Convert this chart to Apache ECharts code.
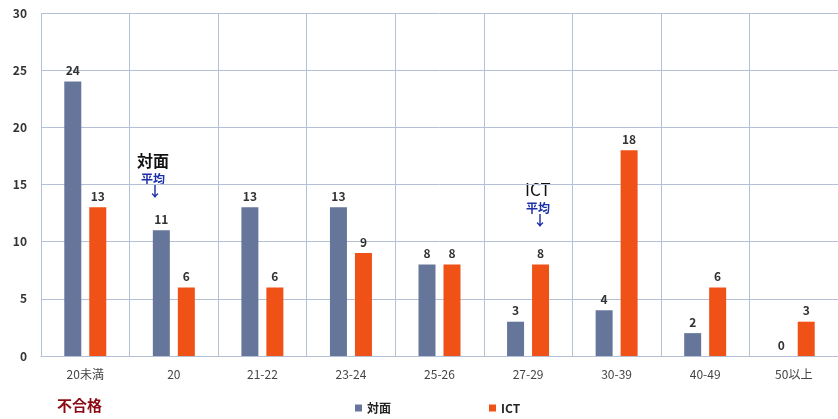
<!DOCTYPE html>
<html>
<head>
<meta charset="utf-8">
<script src="https://cdn.jsdelivr.net/npm/echarts@6/dist/echarts.min.js"></script>
<style>
  html, body { margin: 0; padding: 0; background: #fff; }
  #chart { width: 838px; height: 419px; }
</style>
</head>
<body>
<div id="chart"></div>
<script>
  // 年齢区分
  var categories = ['20未満', '20', '21-22', '23-24', '25-26', '27-29', '30-39', '40-49', '50以上'];
  // 対面 / ICT の人数
  var taimen = [24, 11, 13, 13, 8, 3, 4, 2, 0];
  var ict = [13, 6, 6, 9, 8, 8, 18, 6, 3];
  var yTicks = [0, 5, 10, 15, 20, 25, 30];

  var font = '"Noto Sans CJK JP", "Noto Sans", sans-serif';
  var chart = echarts.init(document.getElementById('chart'));

  var labelStyle = {
    show: true,
    position: 'top',
    distance: 5,
    color: '#333',
    fontSize: 12,
    fontWeight: 'bold',
    fontFamily: font
  };

  chart.setOption({
    backgroundColor: '#fff',
    animation: false,
    textStyle: { fontFamily: font },
    grid: { left: 41, width: 801, top: 13, bottom: 63 },
    legend: {
      bottom: 0,
      left: 350,
      itemWidth: 7,
      itemHeight: 7,
      itemGap: 98,
      icon: 'rect',
      textStyle: { color: '#222', fontSize: 12, fontWeight: 'bold', fontFamily: font },
      data: ['対面', 'ICT']
    },
    xAxis: {
      type: 'category',
      data: categories,
      axisTick: { show: false },
      axisLine: { lineStyle: { color: '#b3c0d6' } },
      axisLabel: { color: '#444', fontSize: 12, margin: 12, fontFamily: font },
      splitLine: { show: true, interval: 0, lineStyle: { color: '#b3c0d6', width: 1 } }
    },
    yAxis: {
      type: 'value',
      min: yTicks[0],
      max: yTicks[yTicks.length - 1],
      interval: 5,
      axisLine: { show: false },
      axisTick: { show: false },
      axisLabel: { color: '#333', fontSize: 12, fontWeight: 'bold', margin: 14, fontFamily: font },
      splitLine: { lineStyle: { color: '#b3c0d6', width: 1 } }
    },
    series: [
      {
        name: '対面',
        type: 'bar',
        data: taimen,
        barWidth: 17,
        barGap: '47%',
        itemStyle: { color: '#66769a' },
        label: labelStyle
      },
      {
        name: 'ICT',
        type: 'bar',
        data: ict,
        barWidth: 17,
        itemStyle: { color: '#ef5116' },
        label: labelStyle
      }
    ],
    graphic: [
      { type: 'text', left: 137, top: 153, style: { text: '対面', fill: '#111', font: 'bold 16px ' + font } },
      { type: 'text', left: 141, top: 173, style: { text: '平均', fill: '#1a2fa8', font: 'bold 12px ' + font } },
      { type: 'text', left: 148, top: 184, style: { text: '↓', fill: '#1a2fa8', font: 'bold 14px ' + font } },
      { type: 'text', left: 525, top: 181, style: { text: 'ICT', fill: '#111', font: '17px ' + font } },
      { type: 'text', left: 526, top: 202, style: { text: '平均', fill: '#1a2fa8', font: 'bold 12px ' + font } },
      { type: 'text', left: 533, top: 213, style: { text: '↓', fill: '#1a2fa8', font: 'bold 14px ' + font } },
      { type: 'text', left: 57, top: 398, style: { text: '不合格', fill: '#8b0a14', font: 'bold 15px ' + font } }
    ]
  });
</script>
</body>
</html>
